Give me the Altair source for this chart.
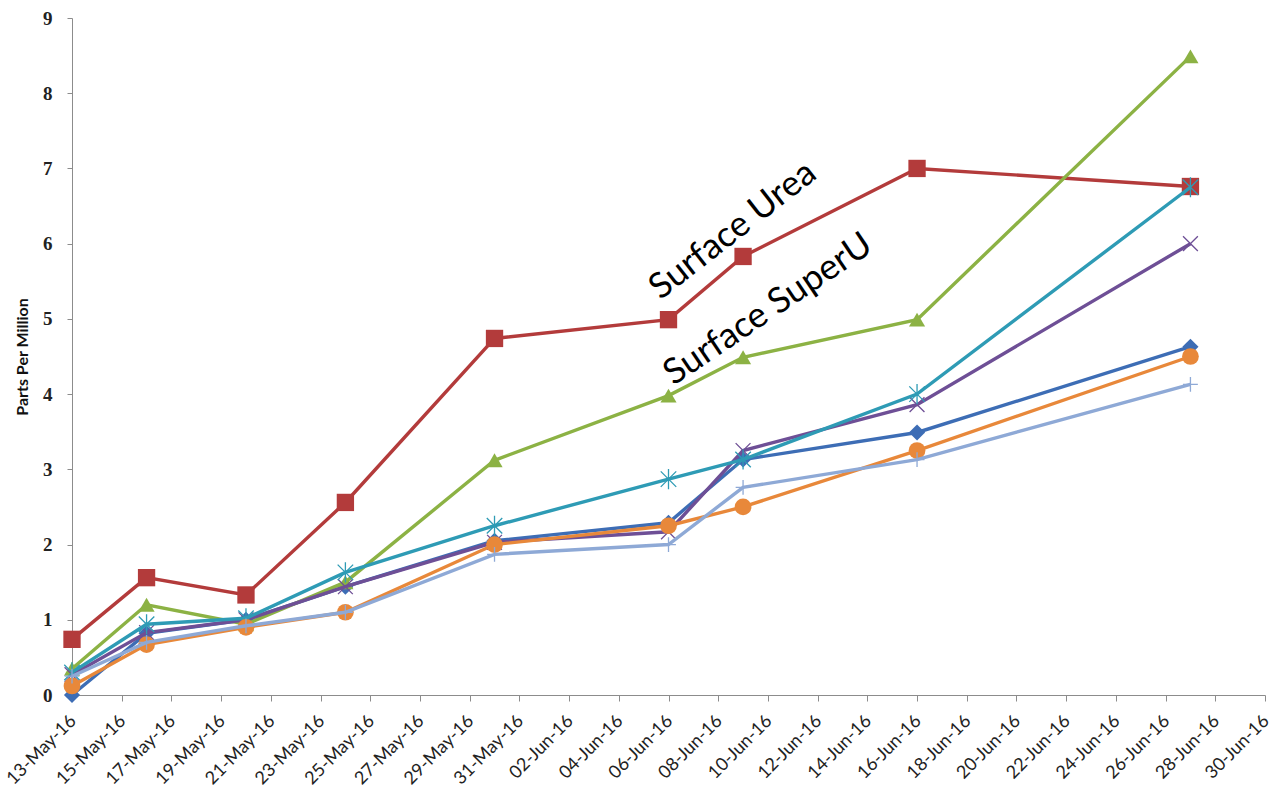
import altair as alt
import pandas as pd

dates = ["2016-05-13", "2016-05-16", "2016-05-20", "2016-05-24", "2016-05-30",
         "2016-06-06", "2016-06-09", "2016-06-16", "2016-06-27"]

series_names = ["S1", "Surface Urea", "Surface SuperU", "S4", "S5", "S6", "S7"]
s1 = [0.0, 0.82, 1.0, 1.44, 2.05, 2.29, 3.13, 3.49, 4.63]
s2 = [0.74, 1.56, 1.33, 2.56, 4.74, 4.99, 5.83, 7.0, 6.76]
s3 = [0.35, 1.2, 0.94, 1.5, 3.12, 3.98, 4.49, 4.99, 8.49]
s4 = [0.27, 0.83, 1.0, 1.44, 2.03, 2.17, 3.25, 3.86, 6.0]
s5 = [0.3, 0.94, 1.02, 1.63, 2.25, 2.87, 3.13, 4.0, 6.75]
s6 = [0.12, 0.67, 0.9, 1.1, 2.0, 2.25, 2.5, 3.25, 4.5]
s7 = [0.25, 0.7, 0.92, 1.1, 1.87, 2.0, 2.76, 3.13, 4.13]
values = [s1, s2, s3, s4, s5, s6, s7]

colors = ["#3D6DB5", "#B33B3B", "#8CB244", "#6E4F96", "#2E9BB5", "#E8883A", "#8EA9D6"]
shapes = ["diamond", "square", "triangle-up",
          "M-1,-1L1,1M-1,1L1,-1",
          "M-1,-1L1,1M-1,1L1,-1M0,-1.3L0,1.3",
          "circle",
          "M-1,0L1,0M0,-1L0,1"]
filled = [True, True, True, False, False, True, False]
sizes = [260, 300, 260, 220, 240, 280, 220]

tick_dates = pd.date_range("2016-05-13", "2016-06-30", freq="2D")

ann_text = ["Surface Urea", "Surface SuperU"]
ann_x = ["2016-06-08T14:00:00", "2016-06-10T00:00:00"]
ann_y = [6.18, 5.13]
ann_angle = [322, 326]

x_scale = alt.Scale(type="utc",
                    domain=[alt.DateTime(year=2016, month=5, date=13, utc=True),
                            alt.DateTime(year=2016, month=6, date=30, utc=True)])
y_scale = alt.Scale(domain=[0, 9], nice=False)

x_axis = alt.Axis(
    values=[alt.DateTime(year=d.year, month=d.month, date=d.day, utc=True) for d in tick_dates],
    labelExpr="utcFormat(datum.value, '%d-%b-%y')",
    labelAngle=315, labelAlign="right", labelBaseline="middle",
    labelFont="Lato", labelFontSize=18, labelColor="#222222",
    labelPadding=17, labelOffset=1,
    tickSize=6, tickColor="#8c8c8c", domainColor="#8c8c8c", grid=False, title=None,
    labelOverlap=False, labelBound=False, labelFlush=False,
)
y_axis = alt.Axis(
    values=list(range(10)), format="d",
    labelFont="Liberation Serif", labelFontWeight="bold", labelFontSize=19,
    labelColor="#222222", labelPadding=15,
    tickSize=5, tickColor="#8c8c8c", domainColor="#8c8c8c", grid=False,
    title="Parts Per Million", titleFont="Lato", titleFontWeight="bold",
    titleFontSize=16, titleColor="#111111", titlePadding=12,
)

layers = []
for i, name in enumerate(series_names):
    df = pd.DataFrame({"date": dates, "value": values[i], "series": name})
    if i == 0:
        xenc = alt.X("date:T", scale=x_scale, axis=x_axis)
        yenc = alt.Y("value:Q", scale=y_scale, axis=y_axis)
    else:
        xenc = alt.X("date:T", scale=x_scale)
        yenc = alt.Y("value:Q", scale=y_scale)
    base = alt.Chart(df).encode(x=xenc, y=yenc)
    line = base.mark_line(strokeWidth=3.4, color=colors[i])
    if filled[i]:
        pts = base.mark_point(shape=shapes[i], filled=True, size=sizes[i],
                              color=colors[i], opacity=1)
    else:
        pts = base.mark_point(shape=shapes[i], filled=False, size=sizes[i],
                              color=colors[i], strokeWidth=1.3, opacity=1)
    layers += [line, pts]

ann_df = pd.DataFrame({"text": ann_text, "x": ann_x, "y": ann_y})
for j in range(len(ann_text)):
    layers.append(
        alt.Chart(ann_df.iloc[[j]]).mark_text(
            font="Lato", fontSize=35.5, color="#000000", angle=ann_angle[j],
            align="center", baseline="middle"
        ).encode(
            x=alt.X("x:T", scale=x_scale),
            y=alt.Y("y:Q", scale=y_scale),
            text="text:N",
        )
    )

chart = alt.layer(*layers).properties(
    width=1193, height=677,
    autosize=alt.AutoSizeParams(type="none"),
    padding={"left": 72, "top": 18, "right": 8, "bottom": 101},
    background="white",
).configure_view(stroke=None)

chart.save("out.html", embed_options={"renderer": "svg", "actions": False})
